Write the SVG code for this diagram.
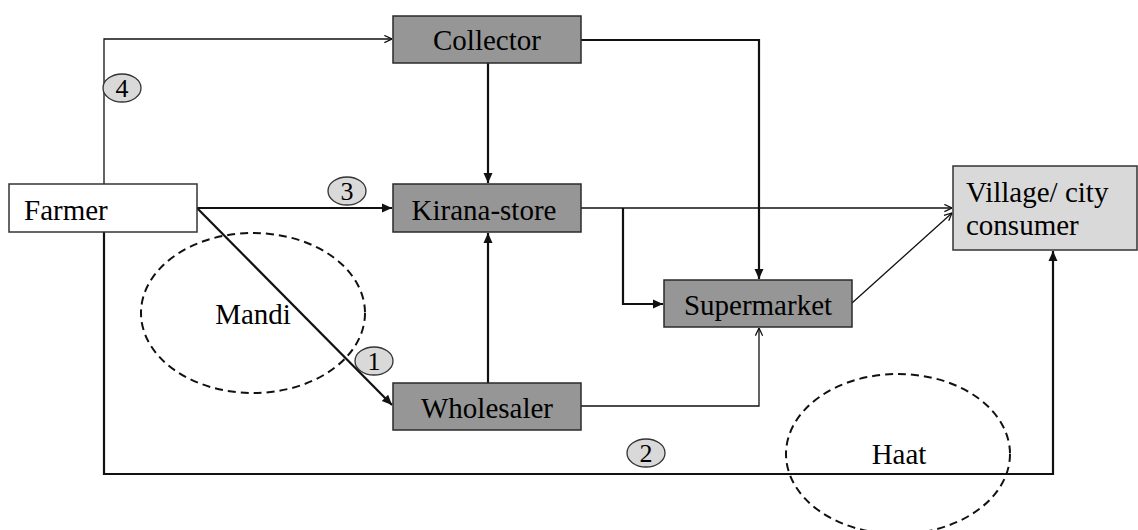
<svg xmlns="http://www.w3.org/2000/svg" width="1138" height="530" viewBox="0 0 1138 530">
<style>
.box{fill:#969696;stroke:#2a2a2a;stroke-width:1.5}
.badge{fill:#d9d9d9;stroke:#333;stroke-width:1.3}
.thick{fill:none;stroke:#111;stroke-width:2.2}
.thin{fill:none;stroke:#111;stroke-width:1.3}
.dash{fill:none;stroke:#111;stroke-width:2;stroke-dasharray:8 5}
</style>
<defs>
<marker id="fa" viewBox="0 0 10 10" refX="10" refY="5" markerWidth="10" markerHeight="10" markerUnits="userSpaceOnUse" orient="auto">
<path d="M0,0.5 L10,5 L0,9.5 z" fill="#111"/>
</marker>
<marker id="oa" viewBox="0 0 10 10" refX="9.5" refY="5" markerWidth="9" markerHeight="9" markerUnits="userSpaceOnUse" orient="auto">
<path d="M1,1 L9.5,5 L1,9" fill="none" stroke="#111" stroke-width="1.4"/>
</marker>
</defs>

<g id="regions">
<ellipse class="dash" cx="253" cy="313" rx="112" ry="80"/>
<text font-family="Liberation Serif, Times New Roman, serif" font-size="29" x="253" y="324" text-anchor="middle">Mandi</text>
<ellipse class="dash" cx="898" cy="454" rx="112" ry="80"/>
<text font-family="Liberation Serif, Times New Roman, serif" font-size="29" x="899" y="464" text-anchor="middle">Haat</text>
</g>

<g id="connectors">
<path class="thin" d="M104,184 V39 H392" marker-end="url(#oa)"/>
<path class="thick" d="M197,208 H392" marker-end="url(#fa)"/>
<path class="thick" d="M197,208 L392,405" marker-end="url(#fa)"/>
<path class="thick" d="M104,232 V474 H1053 V251" marker-end="url(#fa)"/>
<path class="thick" d="M488,63 V183" marker-end="url(#fa)"/>
<path class="thick" d="M488,383 V233" marker-end="url(#fa)"/>
<path class="thick" d="M581,40 H759 V279" marker-end="url(#fa)"/>
<path class="thick" d="M623,208 V304 H663" marker-end="url(#fa)"/>
<path class="thin" d="M581,208 H952" marker-end="url(#oa)"/>
<path class="thin" d="M581,406 H759 V328" marker-end="url(#oa)"/>
<path class="thin" d="M852,303 L952,213" marker-end="url(#oa)"/>
</g>

<g id="badges">
<g id="badge-4"><ellipse class="badge" cx="122" cy="88" rx="19" ry="14"/><text font-family="Liberation Serif, Times New Roman, serif" font-size="26" text-anchor="middle" x="122" y="97">4</text></g>
<g id="badge-3"><ellipse class="badge" cx="347" cy="191" rx="19" ry="14"/><text font-family="Liberation Serif, Times New Roman, serif" font-size="26" text-anchor="middle" x="347" y="200">3</text></g>
<g id="badge-1"><ellipse class="badge" cx="374" cy="361" rx="19" ry="14"/><text font-family="Liberation Serif, Times New Roman, serif" font-size="26" text-anchor="middle" x="374" y="370">1</text></g>
<g id="badge-2"><ellipse class="badge" cx="646" cy="453" rx="19" ry="14"/><text font-family="Liberation Serif, Times New Roman, serif" font-size="26" text-anchor="middle" x="646" y="462">2</text></g>
</g>

<g id="farmer">
<rect x="9" y="184" width="188" height="48" fill="#fff" stroke="#333" stroke-width="1.5"/>
<text font-family="Liberation Serif, Times New Roman, serif" font-size="29" x="24" y="220">Farmer</text>
</g>
<g id="collector">
<rect class="box" x="393" y="16" width="188" height="47"/>
<text font-family="Liberation Serif, Times New Roman, serif" font-size="29" x="487" y="50" text-anchor="middle">Collector</text>
</g>
<g id="kirana">
<rect class="box" x="393" y="184" width="188" height="48"/>
<text font-family="Liberation Serif, Times New Roman, serif" font-size="29" x="484" y="220" text-anchor="middle">Kirana-store</text>
</g>
<g id="wholesaler">
<rect class="box" x="393" y="383" width="188" height="47"/>
<text font-family="Liberation Serif, Times New Roman, serif" font-size="29" x="487" y="418" text-anchor="middle">Wholesaler</text>
</g>
<g id="supermarket">
<rect class="box" x="664" y="280" width="188" height="47"/>
<text font-family="Liberation Serif, Times New Roman, serif" font-size="29" x="758" y="315" text-anchor="middle">Supermarket</text>
</g>
<g id="consumer">
<rect x="953" y="166" width="184" height="84" fill="#d9d9d9" stroke="#333" stroke-width="1.5"/>
<text font-family="Liberation Serif, Times New Roman, serif" font-size="29" x="966" y="202">Village/ city</text>
<text font-family="Liberation Serif, Times New Roman, serif" font-size="29" x="966" y="235">consumer</text>
</g>
</svg>
